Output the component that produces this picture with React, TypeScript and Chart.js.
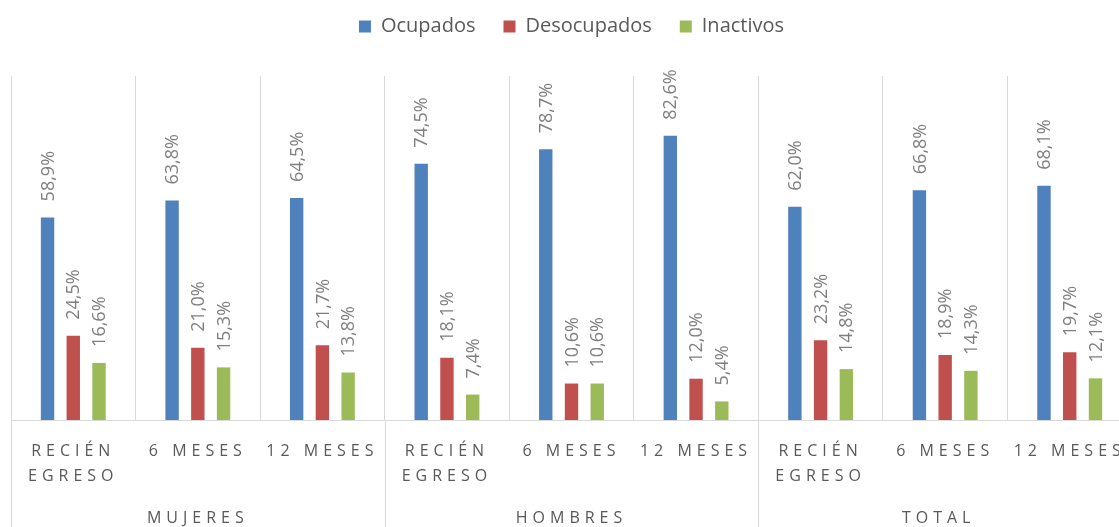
import React, { useEffect, useRef } from 'react';
import { Chart, registerables } from 'chart.js';

Chart.register(...registerables);

// ---- data ----
const groups = ['MUJERES', 'HOMBRES', 'TOTAL'];
const periodLines = [['RECIÉN', 'EGRESO'], ['6 MESES'], ['12 MESES']];
const categories = groups.flatMap((g) => periodLines.map((p) => `${g} – ${p.join(' ')}`));
const seriesNames = ['Ocupados', 'Desocupados', 'Inactivos'];
const ocupados = [58.9, 63.8, 64.5, 74.5, 78.7, 82.6, 62.0, 66.8, 68.1];
const desocupados = [24.5, 21.0, 21.7, 18.1, 10.6, 12.0, 23.2, 18.9, 19.7];
const inactivos = [16.6, 15.3, 13.8, 7.4, 10.6, 5.4, 14.8, 14.3, 12.1];
const seriesColors = ['#4F81BD', '#C0504D', '#9BBB59'];

// ---- style ----
const VIEW_W = 1119;
const VIEW_H = 527;
const CANVAS_W = 1143;
const FONT = '"Open Sans", "Liberation Sans", sans-serif';
const GRID = '#D9D9D9';
const AXIS_TEXT = '#595959';
const LABEL_TEXT = '#7F7F7F';
const LETTER_SP = 5;

const fmt = (v: number) => v.toFixed(1).replace('.', ',') + '%';

const legendSpacer = {
  id: 'legendSpacer',
  beforeInit(chart: any) {
    const legend = chart.legend;
    if (!legend) return;
    const orig = legend.fit;
    legend.fit = function () {
      orig.call(this);
      this.height += 29.5;
    };
  },
};

const barValueLabels = {
  id: 'barValueLabels',
  afterDatasetsDraw(chart: any) {
    const { ctx } = chart;
    ctx.save();
    ctx.font = `18px ${FONT}`;
    ctx.fillStyle = LABEL_TEXT;
    ctx.textAlign = 'left';
    ctx.textBaseline = 'middle';
    chart.data.datasets.forEach((ds: any, di: number) => {
      const meta = chart.getDatasetMeta(di);
      meta.data.forEach((el: any, i: number) => {
        ctx.save();
        ctx.translate(el.x + 1, el.y - 16);
        ctx.rotate(-Math.PI / 2);
        ctx.fillText(fmt(ds.data[i]), 0, 0);
        ctx.restore();
      });
    });
    ctx.restore();
  },
};

const multiLevelAxis = {
  id: 'multiLevelAxis',
  afterDraw(chart: any) {
    const { ctx, chartArea } = chart;
    const x = chart.scales.x;
    const n = categories.length;
    const step = (x.right - x.left) / n;
    const per = periodLines.length;
    ctx.save();
    ctx.strokeStyle = GRID;
    ctx.lineWidth = 1;
    for (let g = 0; g <= groups.length; g++) {
      const px = Math.round(x.left + step * per * g) + 0.5;
      ctx.beginPath();
      ctx.moveTo(px, chartArea.bottom);
      ctx.lineTo(px, chart.height);
      ctx.stroke();
    }
    ctx.fillStyle = AXIS_TEXT;
    ctx.font = `16px ${FONT}`;
    (ctx as any).letterSpacing = `${LETTER_SP}px`;
    ctx.textAlign = 'center';
    ctx.textBaseline = 'alphabetic';
    categories.forEach((_, i) => {
      const cx = x.getPixelForValue(i);
      periodLines[i % per].forEach((ln, j) => {
        ctx.fillText(ln, cx, chartArea.bottom + 36 + j * 25);
      });
    });
    groups.forEach((g, gi) => {
      const left = x.left + step * per * gi;
      const right = Math.min(left + step * per, VIEW_W);
      ctx.fillText(g, (left + right) / 2, chartArea.bottom + 102.5);
    });
    ctx.restore();
  },
};

export default function App() {
  const ref = useRef<HTMLCanvasElement | null>(null);

  useEffect(() => {
    if (!ref.current) return;
    const data = [ocupados, desocupados, inactivos];
    const chart = new Chart(ref.current, {
      type: 'bar',
      data: {
        labels: categories,
        datasets: seriesNames.map((name, i) => ({
          label: name,
          data: data[i],
          backgroundColor: seriesColors[i],
          borderWidth: 0,
          categoryPercentage: 0.62,
          barPercentage: 0.52,
        })),
      },
      options: {
        responsive: false,
        animation: false,
        layout: { padding: { top: -11.5, left: 11, right: 11, bottom: 107 } },
        plugins: {
          legend: {
            position: 'top',
            labels: {
              boxWidth: 12,
              boxHeight: 12,
              padding: 28,
              color: AXIS_TEXT,
              font: { family: FONT, size: 20 },
            },
          },
          tooltip: { enabled: false },
          title: { display: false },
        },
        scales: {
          x: {
            offset: true,
            grid: { display: true, offset: true, color: GRID, lineWidth: 1, drawTicks: false },
            border: { display: true, color: GRID },
            ticks: { display: false },
          },
          y: {
            display: false,
            min: 0,
            max: 100,
          },
        },
      },
      plugins: [legendSpacer, barValueLabels, multiLevelAxis],
    });
    return () => chart.destroy();
  }, []);

  return (
    <div
      style={{
        position: 'fixed',
        left: 0,
        top: 0,
        width: VIEW_W,
        height: VIEW_H,
        overflow: 'hidden',
        background: '#ffffff',
      }}
    >
      <canvas ref={ref} width={CANVAS_W} height={VIEW_H} style={{ display: 'block' }} />
    </div>
  );
}
